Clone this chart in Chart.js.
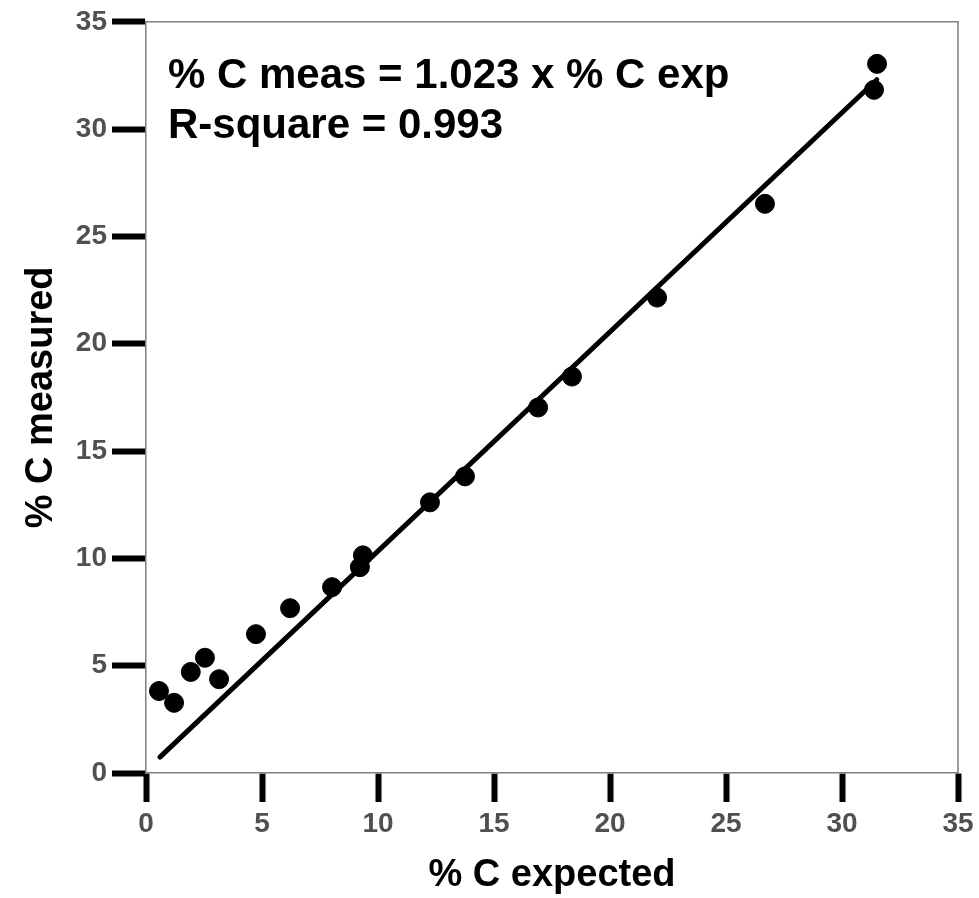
<!DOCTYPE html>
<html>
<head>
<meta charset="utf-8">
<title>% C measured vs expected</title>
<script src="https://cdn.jsdelivr.net/npm/chart.js@4/dist/chart.umd.min.js"></script>
<style>
  html, body { margin: 0; padding: 0; background: #fff; }
  canvas { display: block; }
</style>
</head>
<body>
<canvas id="carbonChart" width="979" height="898"></canvas>
<script>
// values
const expected = [0.56, 1.21, 1.93, 2.54, 3.15, 4.74, 6.21, 8.02, 9.22, 9.35, 12.24, 13.75, 16.9, 18.36, 22.03, 26.68, 31.38, 31.51];
const measured = [3.82, 3.27, 4.71, 5.37, 4.37, 6.47, 7.68, 8.66, 9.59, 10.14, 12.61, 13.82, 17.03, 18.47, 22.15, 26.52, 31.83, 33.04];

// regression line end points (as drawn)
const fitX = [0.6, 31.5];
const fitY = [0.74, 32.3];

const xTicks = [0, 5, 10, 15, 20, 25, 30, 35];
const yTicks = [0, 5, 10, 15, 20, 25, 30, 35];

const annotation = ['% C meas = 1.023 x % C exp', 'R-square = 0.993'];

const ctx = document.getElementById('carbonChart').getContext('2d');

const framePlugin = {
    id: 'frame',
    beforeDatasetsDraw(chart) {
        const a = chart.chartArea;
        const c = chart.ctx;
        c.save();
        c.strokeStyle = '#808080';
        c.lineWidth = 1.5;
        c.beginPath();
        c.moveTo(a.left, a.top);
        c.lineTo(a.right, a.top);
        c.lineTo(a.right, a.bottom);
        c.stroke();
        c.restore();
    },
    afterDraw(chart) {
        const a = chart.chartArea;
        const c = chart.ctx;
        c.save();
        c.fillStyle = '#000';
        c.font = 'bold 42px "Liberation Sans", Arial, sans-serif';
        c.textBaseline = 'alphabetic';
        c.textAlign = 'left';
        c.fillText(annotation[0], a.left + 22, a.top + 66);
        c.fillText(annotation[1], a.left + 22, a.top + 116);
        c.restore();
    }
};

const tickFont = { family: '"Liberation Sans", Arial, sans-serif', size: 28, weight: 'bold' };
const titleFont = { family: '"Liberation Sans", Arial, sans-serif', size: 38, weight: 'bold' };

const chart = new Chart(ctx, {
    type: 'scatter',
    data: {
        datasets: [{
            label: 'fit',
            type: 'line',
            data: fitX.map((x, i) => ({ x: x, y: fitY[i] })),
            borderColor: '#000',
            borderWidth: 5,
            borderCapStyle: 'round',
            pointRadius: 0,
            fill: false,
            order: 2
        }, {
            label: 'samples',
            data: expected.map((x, i) => ({ x: x, y: measured[i] })),
            backgroundColor: '#000',
            borderColor: '#000',
            pointRadius: 9.5,
            order: 1
        }]
    },
    options: {
        responsive: false,
        animation: false,
        layout: { padding: { top: 21, right: 21, left: 0, bottom: 0 } },
        plugins: {
            legend: { display: false },
            tooltip: { enabled: false }
        },
        scales: {
            x: {
                type: 'linear',
                position: 'bottom',
                min: 0,
                max: 35,
                afterBuildTicks: (scale) => { scale.ticks = xTicks.map(v => ({ value: v })); },
                afterFit: (scale) => { scale.height = 125; },
                ticks: { font: tickFont, color: '#505050', padding: 5, maxRotation: 0 },
                grid: {
                    drawOnChartArea: false,
                    drawTicks: true,
                    tickLength: 29,
                    tickWidth: 6,
                    tickColor: '#000'
                },
                border: { display: true, color: '#808080', width: 1.5 },
                title: {
                    display: true,
                    text: '% C expected',
                    font: titleFont,
                    color: '#000',
                    padding: { top: 3, bottom: 0 }
                }
            },
            y: {
                type: 'linear',
                position: 'left',
                min: 0,
                max: 35,
                afterBuildTicks: (scale) => { scale.ticks = yTicks.map(v => ({ value: v })); },
                afterFit: (scale) => { scale.width = 146; },
                ticks: { font: tickFont, color: '#505050', padding: 5 },
                grid: {
                    drawOnChartArea: false,
                    drawTicks: true,
                    tickLength: 34,
                    tickWidth: 6,
                    tickColor: '#000'
                },
                border: { display: true, color: '#808080', width: 1.5 },
                title: {
                    display: true,
                    text: '% C measured',
                    font: titleFont,
                    color: '#000',
                    padding: { top: 19, bottom: 0 }
                }
            }
        }
    },
    plugins: [framePlugin]
});
</script>
</body>
</html>
